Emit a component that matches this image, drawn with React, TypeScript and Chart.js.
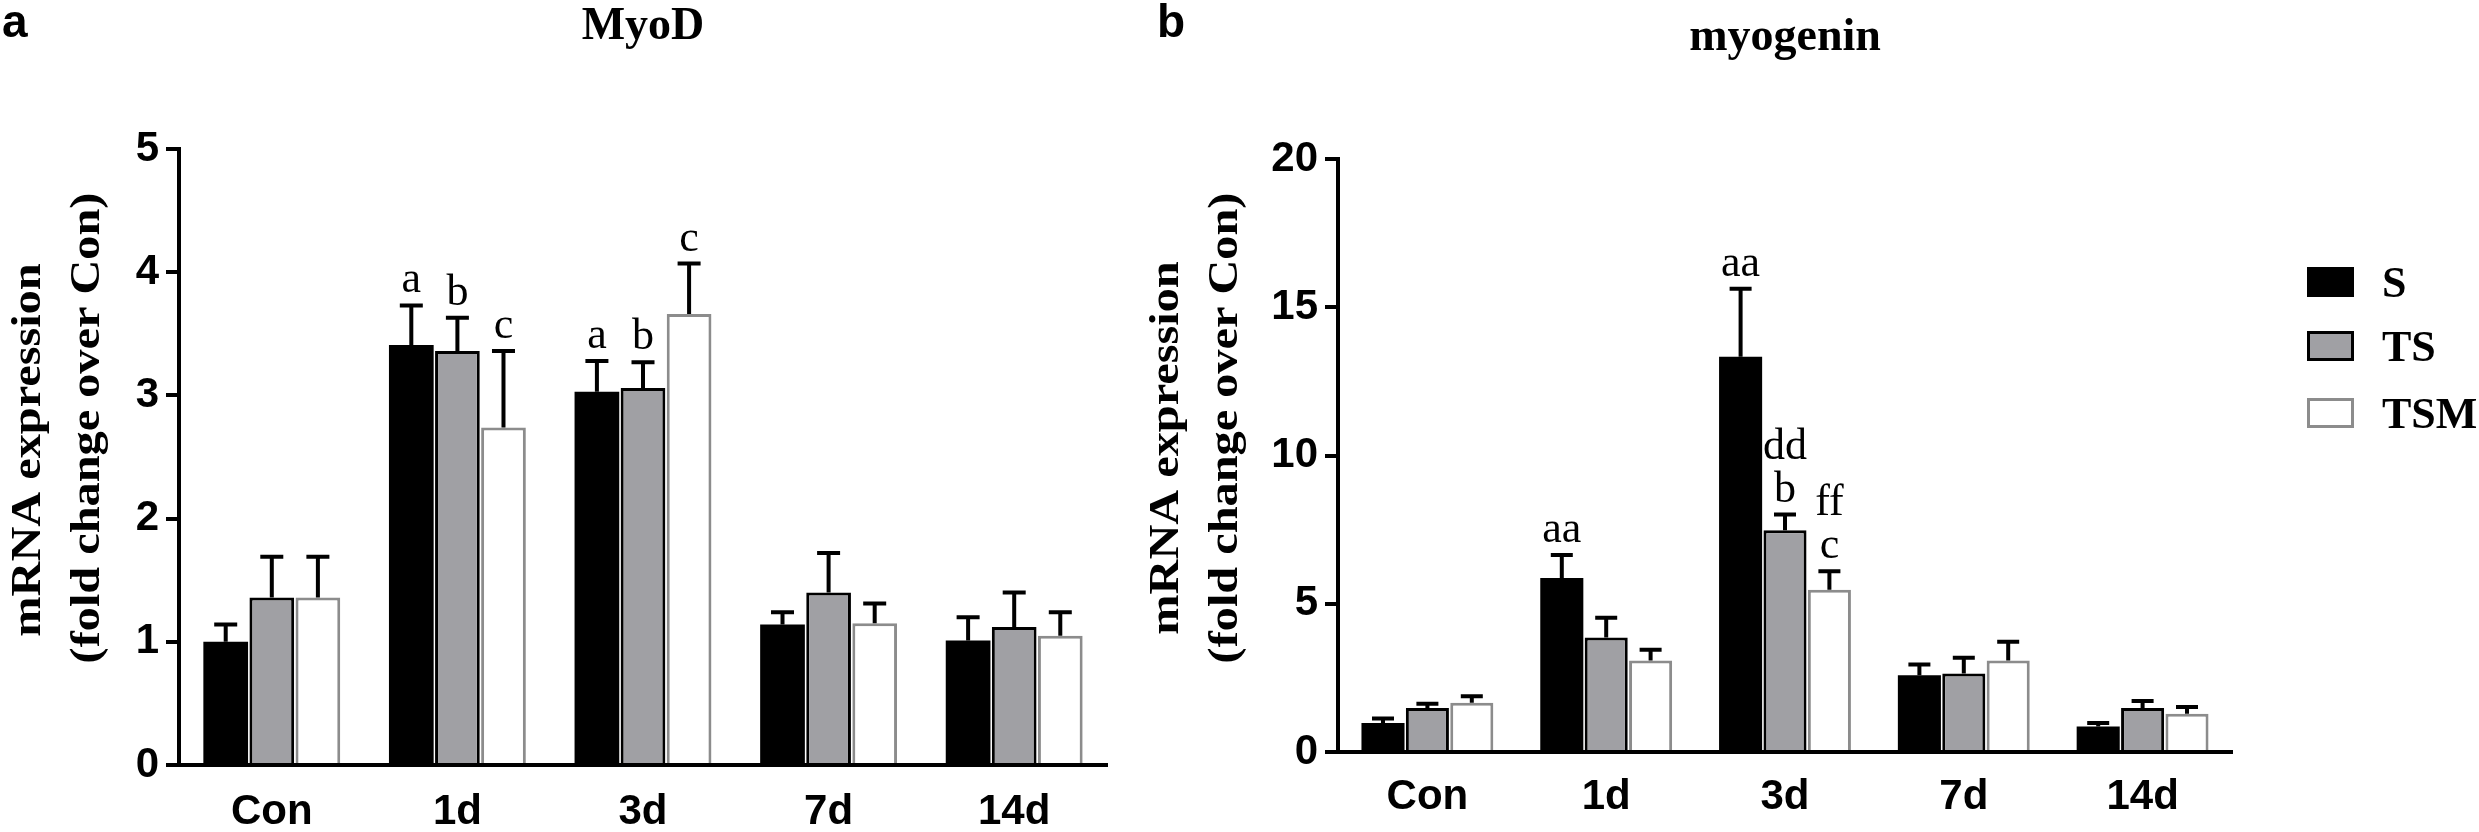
import React, { useEffect, useRef } from "react";
import { Chart, registerables } from "chart.js";

Chart.register(...registerables);

const categories = ["Con", "1d", "3d", "7d", "14d"];
const seriesNames = ["S", "TS", "TSM"];

// panel a: MyoD (mean and upper SEM)
const myodS = [1.0, 3.41, 3.03, 1.14, 1.01];
const myodSErr = [0.14, 0.32, 0.25, 0.1, 0.19];
const myodTS = [1.36, 3.36, 3.06, 1.4, 1.12];
const myodTSErr = [0.33, 0.27, 0.21, 0.32, 0.28];
const myodTSM = [1.36, 2.74, 3.66, 1.15, 1.05];
const myodTSMErr = [0.33, 0.62, 0.41, 0.16, 0.19];
const myodSNotes = ["", "a", "a", "", ""];
const myodTSNotes = ["", "b", "b", "", ""];
const myodTSMNotes = ["", "c", "c", "", ""];
const myodMax = 5;
const myodStep = 1;

// panel b: myogenin
const myogS = [0.98, 5.87, 13.33, 2.59, 0.86];
const myogSErr = [0.15, 0.77, 2.29, 0.36, 0.12];
const myogTS = [1.48, 3.86, 7.48, 2.65, 1.48];
const myogTSErr = [0.15, 0.67, 0.53, 0.53, 0.24];
const myogTSM = [1.66, 3.09, 5.47, 3.09, 1.29];
const myogTSMErr = [0.22, 0.36, 0.63, 0.63, 0.23];
const myogSNotes = ["", "aa", "aa", "", ""];
const myogTSNotes = ["", "", "dd\nb", "", ""];
const myogTSMNotes = ["", "", "ff\nc", "", ""];
const myogMax = 20;
const myogStep = 5;

const yTitle = ["mRNA expression", "(fold change over Con)"];

const fills = ["#000000", "#a0a0a4", "#ffffff"];
const borders = ["#000000", "#000000", "#8c8c8c"];

const SANS = '"Liberation Sans", Arial, sans-serif';
const SERIF = '"Liberation Serif", "Times New Roman", serif';

// error bars, significance letters, titles, panel letter and legend
const decorPlugin = {
  id: "decor",
  afterDatasetsDraw(chart: any, _args: any, opts: any) {
    const ctx = chart.ctx;
    const yScale = chart.scales.y;
    ctx.save();
    chart.data.datasets.forEach((ds: any, i: number) => {
      const meta = chart.getDatasetMeta(i);
      meta.data.forEach((bar: any, j: number) => {
        const top = yScale.getPixelForValue(ds.data[j] + ds.err[j]);
        const x = bar.x;
        ctx.strokeStyle = "#000";
        ctx.lineWidth = 4;
        ctx.beginPath();
        ctx.moveTo(x, bar.y);
        ctx.lineTo(x, top);
        ctx.moveTo(x - opts.cap / 2, top);
        ctx.lineTo(x + opts.cap / 2, top);
        ctx.stroke();
        const note = ds.notes[j];
        if (note) {
          const lines = note.split("\n");
          ctx.fillStyle = "#000";
          ctx.font = `44px ${SERIF}`;
          ctx.textAlign = "center";
          ctx.textBaseline = "alphabetic";
          lines.forEach((ln: string, k: number) => {
            ctx.fillText(ln, x, top - 13 - (lines.length - 1 - k) * 43);
          });
        }
      });
    });
    ctx.restore();
  },
  afterDraw(chart: any, _args: any, opts: any) {
    const ctx = chart.ctx;
    const area = chart.chartArea;
    ctx.save();
    ctx.fillStyle = "#000";
    ctx.textBaseline = "alphabetic";
    ctx.font = `bold 46px ${SERIF}`;
    ctx.textAlign = "center";
    ctx.fillText(opts.title, (area.left + area.right) / 2, opts.titleY);
    ctx.font = `bold 46px ${SANS}`;
    ctx.textAlign = "left";
    ctx.fillText(opts.letter, opts.letterX, 37);

    // rotated y-axis title, stretched along the reading direction like the original
    ctx.font = `bold 42px ${SERIF}`;
    ctx.textAlign = "center";
    ctx.textBaseline = "middle";
    yTitle.forEach((ln, k) => {
      ctx.save();
      ctx.translate(opts.yTitleX[k], opts.yTitleY[k]);
      ctx.rotate(-Math.PI / 2);
      ctx.scale(1.15, 1);
      ctx.fillText(ln, 0, 0);
      ctx.restore();
    });

    if (opts.legend) {
      const lg = opts.legend;
      ctx.textAlign = "left";
      ctx.textBaseline = "alphabetic";
      chart.data.datasets.forEach((ds: any, i: number) => {
        const top = lg.tops[i];
        ctx.fillStyle = ds.backgroundColor;
        ctx.fillRect(lg.x, top, 47, 30);
        ctx.strokeStyle = ds.borderColor;
        ctx.lineWidth = 3;
        ctx.strokeRect(lg.x + 1.5, top + 1.5, 44, 27);
        ctx.fillStyle = "#000";
        ctx.font = `bold 44px ${SERIF}`;
        ctx.fillText(ds.label, lg.x + 75, top + 30);
      });
    }
    ctx.restore();
  },
};

type PanelProps = {
  left: number;
  width: number;
  series: number[][];
  errs: number[][];
  notes: string[][];
  max: number;
  step: number;
  pad: { top: number; right: number };
  yWidth: number;
  xHeight: number;
  xPad: number;
  catPct: number;
  decor: any;
};

const Panel = (p: PanelProps) => {
  const canvasRef = useRef<HTMLCanvasElement>(null);
  const chartRef = useRef<Chart | null>(null);

  useEffect(() => {
    if (!canvasRef.current) return;
    const ctx = canvasRef.current.getContext("2d");
    if (!ctx) return;
    chartRef.current = new Chart(ctx, {
      type: "bar",
      data: {
        labels: categories,
        datasets: seriesNames.map((name, i) => ({
          label: name,
          data: p.series[i],
          err: p.errs[i],
          notes: p.notes[i],
          backgroundColor: fills[i],
          borderColor: borders[i],
          borderWidth: i === 0 ? 0 : 3,
          barPercentage: 0.97,
          categoryPercentage: p.catPct,
        })) as any,
      },
      options: {
        responsive: false,
        animation: false,
        layout: { padding: { left: 0, top: p.pad.top, right: p.pad.right, bottom: 0 } },
        scales: {
          x: {
            grid: { display: true, drawOnChartArea: false, drawTicks: false },
            border: { display: true, width: 4, color: "#000" },
            ticks: {
              color: "#000",
              padding: p.xPad,
              font: { family: SANS, weight: "bold", size: 42 },
            },
            afterFit: (s: any) => {
              s.height = p.xHeight;
            },
          },
          y: {
            min: 0,
            max: p.max,
            ticks: {
              stepSize: p.step,
              color: "#000",
              padding: 7,
              font: { family: SANS, weight: "bold", size: 42 },
            },
            grid: {
              drawOnChartArea: false,
              drawTicks: true,
              tickLength: 13,
              lineWidth: 4,
              color: "#000",
            },
            border: { display: true, width: 4, color: "#000" },
            title: { display: false },
            afterFit: (s: any) => {
              s.width = p.yWidth;
            },
          },
        },
        plugins: {
          legend: { display: false },
          title: { display: false },
          tooltip: { enabled: false },
          decor: p.decor,
        } as any,
      },
      plugins: [decorPlugin],
    });
    return () => {
      if (chartRef.current) {
        chartRef.current.destroy();
        chartRef.current = null;
      }
    };
  }, []);

  return (
    <div style={{ position: "absolute", left: p.left, top: 0, width: p.width, height: 832 }}>
      <canvas ref={canvasRef} width={p.width} height={832} />
    </div>
  );
};

export default function App() {
  return (
    <div
      style={{
        position: "absolute",
        left: 0,
        top: 0,
        width: 2479,
        height: 832,
        background: "#fff",
        overflow: "hidden",
      }}
    >
      <Panel
        left={0}
        width={1138}
        series={[myodS, myodTS, myodTSM]}
        errs={[myodSErr, myodTSErr, myodTSMErr]}
        notes={[myodSNotes, myodTSNotes, myodTSMNotes]}
        max={myodMax}
        step={myodStep}
        pad={{ top: 149, right: 1138 - 1107 }}
        yWidth={179}
        xHeight={832 - 765}
        xPad={22}
        catPct={0.745}
        decor={{
          title: "MyoD",
          titleY: 39,
          letter: "a",
          letterX: 2,
          cap: 23,
          yTitleX: [29, 88],
          yTitleY: [450, 428],
        }}
      />
      <Panel
        left={1138}
        width={1341}
        series={[myogS, myogTS, myogTSM]}
        errs={[myogSErr, myogTSErr, myogTSMErr]}
        notes={[myogSNotes, myogTSNotes, myogTSMNotes]}
        max={myogMax}
        step={myogStep}
        pad={{ top: 159, right: 1341 - (2232 - 1138) }}
        yWidth={1338 - 1138}
        xHeight={832 - 752}
        xPad={20}
        catPct={0.745}
        decor={{
          title: "myogenin",
          titleY: 50,
          letter: "b",
          letterX: 19,
          cap: 22,
          yTitleX: [29, 88],
          yTitleY: [448, 428],
          legend: { x: 2307 - 1138, tops: [267, 331, 398] },
        }}
      />
    </div>
  );
}
